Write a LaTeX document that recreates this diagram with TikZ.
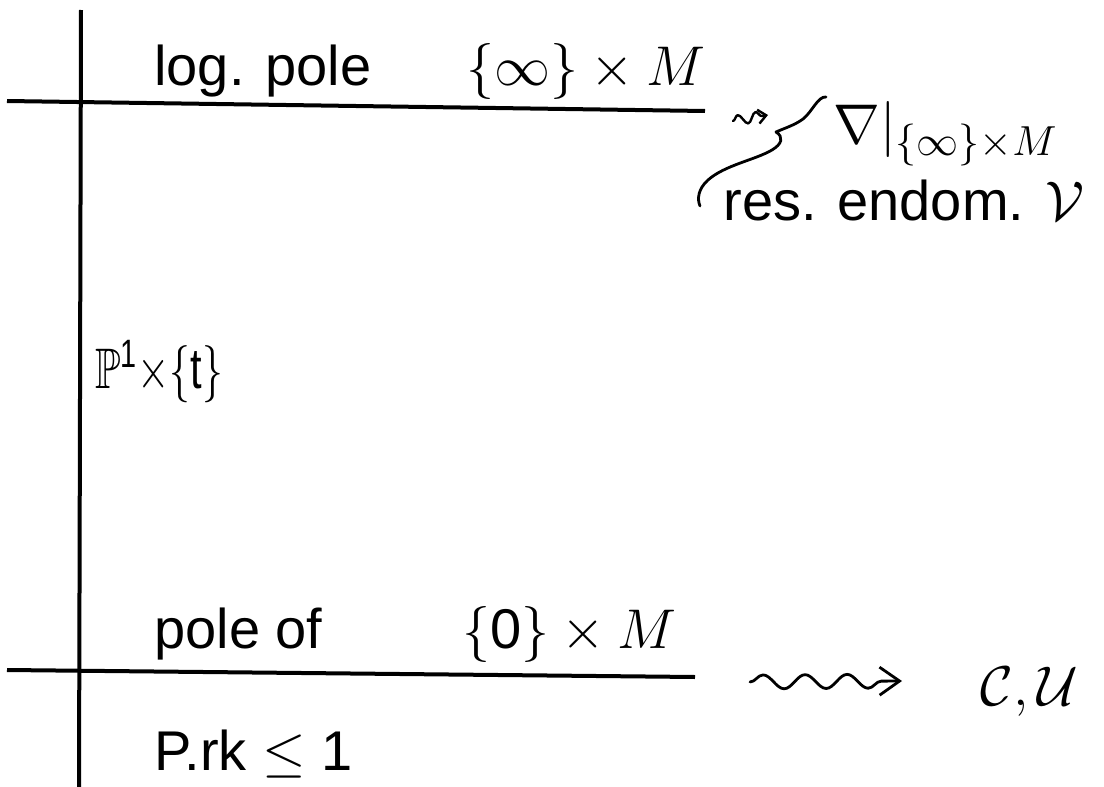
\documentclass[tikz,border=0pt]{standalone}
\usepackage{fix-cm}
\usepackage{amsmath,amssymb}
\usepackage{fontspec}
\setmainfont{Liberation Sans}
\DeclareMathSizes{28}{28}{21}{15}
\DeclareMathSizes{26}{26}{18}{13}
\usetikzlibrary{decorations.pathmorphing,arrows.meta}
\tikzset{
  rule/.style={line width=2pt},
  lbl/.style={inner sep=0pt,anchor=base west,font=\fontsize{28}{33}\selectfont},
  hand/.style={line width=1.4pt,line cap=round,line join=round},
}
\begin{document}
\begin{tikzpicture}[x=0.5pt,y=-0.5pt]
\useasboundingbox (0,0) rectangle (1104,787);
% axes
\coordinate (vt) at (81,10);
\coordinate (vb) at (79,787);
\draw[rule] (vt) -- (vb);
\coordinate (t1) at (7,101);
\coordinate (t2) at (705,111);
\draw[rule] (t1) -- (t2);
\coordinate (b1) at (7,670);
\coordinate (b2) at (695,677);
\draw[rule] (b1) -- (b2);
% texts
\node[lbl] (lp) at (154,85) {log. pole};
\node[lbl] (im) at (466,85) {$\{\infty\}\times M$};
\node[lbl] (po) at (154,648) {pole of};
\node[lbl] (zm) at (462,648) {$\{\text{0}\}\times M$};
\node[lbl] (pr) at (154,770) {P.rk $\leq\text{1}$};
\node[lbl,font=\fontsize{26}{30}\selectfont] (pt) at (95,388)
  {\scalebox{0.8}[1.1]{$\mathbb{P}^{\mathrm{1}}{\times}\{\mathrm{t}\}$}};
\node[lbl] (na) at (833,143) {$\nabla|_{\{\infty\}\times M}$};
\node[lbl] (re) at (723,220) {res. endom. $\mathcal{V}$};
\node[lbl] (cu) at (980,705) {$\mathcal{C},\mathcal{U}$};
% wavy arrow
\coordinate (w1) at (750,682);
\coordinate (w2) at (902,681);
\draw[hand,-{Straight Barb[length=10pt,width=14pt,line width=1.4pt]},decorate,
  decoration={snake,amplitude=3.5pt,segment length=21pt,post length=6pt}] (w1) -- (w2);
% small squiggle arrow
\coordinate (s1) at (733,121);
\coordinate (s2) at (768,115);
\draw[hand,line width=1.2pt,-{Straight Barb[length=4pt,width=7pt,line width=1.2pt]},decorate,
  decoration={snake,amplitude=2.5pt,segment length=9pt,post length=3pt}] (s1) -- (s2);
% hand-drawn brace
\coordinate (br1) at (826,97);
\coordinate (br2) at (700,206);
\draw[hand] (br1) .. controls (818,96) and (812,112) .. (803,119)
  .. controls (795,125) and (785,128) .. (776,132)
  .. controls (784,137) and (782,144) .. (772,150)
  .. controls (755,160) and (725,165) .. (708,180)
  .. controls (698,189) and (697,199) .. (br2);
\end{tikzpicture}
\end{document}
